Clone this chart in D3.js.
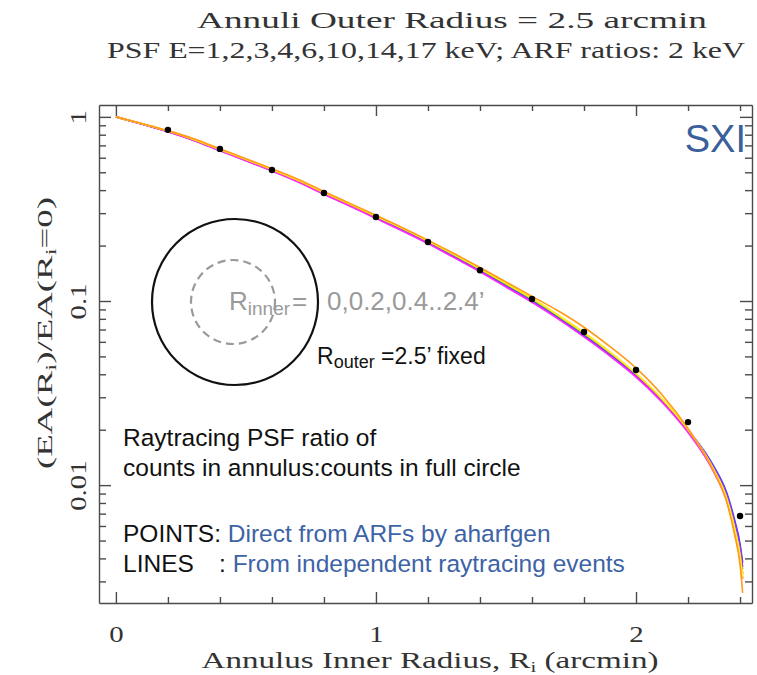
<!DOCTYPE html>
<html>
<head>
<meta charset="utf-8">
<script src="https://cdn.jsdelivr.net/npm/d3@7"></script>
<style>
  body { margin: 0; background: #fff; }
</style>
</head>
<body>
<div id="chart"></div>
<script>
// radii (arcmin) where the raytracing PSF ratio was sampled
const radii = [0, 0.1, 0.2, 0.3, 0.4, 0.5, 0.6, 0.7, 0.8, 0.9, 1.0, 1.1, 1.2, 1.3, 1.4, 1.5,
  1.6, 1.7, 1.8, 1.9, 2.0, 2.1, 2.2, 2.3, 2.35, 2.38, 2.4, 2.41];

// PSF energies (keV) and line colours
const energies = [1, 2, 3, 4, 6, 10, 14, 17];
const lineColors = ["#ff2a2a", "#3ad43a", "#3344ff", "#9a33ff", "#ff2aff", "#ffc400", "#ffee22", "#ff9a1a"];

const psf1keV = [1.0, 0.915, 0.834, 0.748, 0.66, 0.582, 0.513, 0.448, 0.384, 0.331, 0.284, 0.244, 0.208, 0.175, 0.146, 0.121,
  0.1, 0.0813, 0.065, 0.051, 0.0392, 0.0287, 0.0196, 0.012, 0.0083, 0.0058, 0.0042, 0.0033];
const psf2keV = [1.0, 0.916, 0.835, 0.75, 0.662, 0.584, 0.515, 0.45, 0.386, 0.333, 0.286, 0.246, 0.209, 0.176, 0.147, 0.122,
  0.101, 0.082, 0.0655, 0.0515, 0.0396, 0.029, 0.0199, 0.0122, 0.0086, 0.006, 0.0044, 0.0035];
const psf3keV = [1.0, 0.915, 0.833, 0.747, 0.659, 0.58, 0.511, 0.446, 0.382, 0.33, 0.283, 0.243, 0.207, 0.174, 0.1455, 0.1205,
  0.0998, 0.081, 0.0648, 0.0511, 0.0393, 0.0289, 0.02, 0.0126, 0.009, 0.0064, 0.0048, 0.0038];
const psf4keV = [1.0, 0.915, 0.832, 0.745, 0.657, 0.579, 0.51, 0.445, 0.381, 0.329, 0.282, 0.242, 0.206, 0.173, 0.145, 0.12,
  0.0992, 0.0805, 0.0643, 0.0507, 0.039, 0.0287, 0.0198, 0.0124, 0.0088, 0.0062, 0.0046, 0.0036];
const psf6keV = [1.0, 0.914, 0.83, 0.743, 0.655, 0.577, 0.508, 0.443, 0.38, 0.328, 0.281, 0.241, 0.205, 0.172, 0.144, 0.119,
  0.0985, 0.08, 0.0638, 0.0502, 0.0386, 0.0282, 0.0193, 0.0117, 0.0081, 0.0056, 0.0041, 0.0031];
const psf10keV = [1.0, 0.917, 0.837, 0.752, 0.664, 0.586, 0.517, 0.452, 0.388, 0.335, 0.288, 0.248, 0.211, 0.178, 0.149, 0.124,
  0.103, 0.0835, 0.067, 0.0525, 0.0402, 0.0293, 0.02, 0.012, 0.0083, 0.0057, 0.0041, 0.0031];
const psf14keV = [1.0, 0.918, 0.84, 0.756, 0.668, 0.589, 0.52, 0.454, 0.39, 0.337, 0.29, 0.249, 0.212, 0.179, 0.15, 0.125,
  0.104, 0.084, 0.0675, 0.053, 0.0405, 0.0295, 0.0201, 0.0121, 0.0084, 0.0058, 0.0042, 0.0032];
const psf17keV = [1.0, 0.92, 0.842, 0.76, 0.672, 0.593, 0.523, 0.458, 0.393, 0.339, 0.292, 0.251, 0.214, 0.181, 0.152, 0.127,
  0.106, 0.0885, 0.072, 0.0565, 0.0432, 0.031, 0.0203, 0.0118, 0.008, 0.0053, 0.0037, 0.0026];

// ARF ratios at 2 keV (points)
const arfRadii = [0.2, 0.4, 0.6, 0.8, 1.0, 1.2, 1.4, 1.6, 1.8, 2.0, 2.2, 2.4];
const arfRatio = [0.85, 0.67, 0.515, 0.386, 0.286, 0.209, 0.147, 0.1025, 0.0679, 0.0422, 0.022, 0.0068];

// tick values
const xMajor = [0, 1, 2];
const xMinor = [0.2, 0.4, 0.6, 0.8, 1.2, 1.4, 1.6, 1.8, 2.2, 2.4];
const yMajor = [1, 0.1, 0.01];
const yMinor = [0.003, 0.004, 0.005, 0.006, 0.007, 0.008, 0.009,
  0.02, 0.03, 0.04, 0.05, 0.06, 0.07, 0.08, 0.09,
  0.2, 0.3, 0.4, 0.5, 0.6, 0.7, 0.8, 0.9];

const series = [psf1keV, psf2keV, psf3keV, psf4keV, psf6keV, psf10keV, psf14keV, psf17keV];

const W = 757, H = 675;
const margin = { top: 105, right: 5, bottom: 72, left: 99 };
const width = W - margin.left - margin.right;
const height = H - margin.top - margin.bottom;

const serif = "'Liberation Serif', serif";
const sans = "'Liberation Sans', Arial, Helvetica, sans-serif";
const blue = "#3d63a6";
const axisColor = "#4a4a4a";
const inkColor = "#333";

const svg = d3.select("#chart").append("svg")
    .attr("width", W)
    .attr("height", H);

const g = svg.append("g")
    .attr("transform", `translate(${margin.left},${margin.top})`);

const x = d3.scaleLinear().domain([-0.065, 2.446]).range([0, width]);
const y = d3.scaleLog().domain([0.00229, 1.16]).range([height, 0]);

// curves
const line = d3.line()
    .x(d => x(d[0]))
    .y(d => y(d[1]))
    .curve(d3.curveMonotoneX);

series.forEach((vals, i) => {
    g.append("path")
        .datum(radii.map((r, j) => [r, vals[j]]))
        .attr("class", "psf-line e" + energies[i])
        .attr("fill", "none")
        .attr("stroke", lineColors[i])
        .attr("stroke-width", 1.6)
        .attr("stroke-linejoin", "round")
        .attr("d", line);
});

// ARF points
g.selectAll(".arf")
    .data(arfRadii.map((r, i) => [r, arfRatio[i]]))
  .enter().append("circle")
    .attr("class", "arf")
    .attr("cx", d => x(d[0]))
    .attr("cy", d => y(d[1]))
    .attr("r", 3.2)
    .attr("fill", "#000");

// axes (ticks point inward on all four sides)
function styleAxis(sel) {
    sel.selectAll("path, line").attr("stroke", axisColor).attr("stroke-width", 1.4);
}
function noDomain(sel) { sel.select(".domain").remove(); }

g.append("g").attr("transform", `translate(0,${height})`)
    .call(d3.axisBottom(x).tickValues(xMajor).tickSize(-11).tickSizeOuter(0).tickPadding(22).tickFormat(d3.format("d")))
    .call(styleAxis)
    .call(a => a.selectAll("text").attr("font-family", serif).attr("font-size", 24).attr("fill", inkColor)
        .attr("transform", "scale(1.2,1)"));
g.append("g").attr("transform", `translate(0,${height})`)
    .call(d3.axisBottom(x).tickValues(xMinor).tickSize(-6).tickFormat(""))
    .call(noDomain).call(styleAxis);

g.append("g")
    .call(d3.axisTop(x).tickValues(xMajor).tickSize(-11).tickSizeOuter(0).tickFormat(""))
    .call(styleAxis);
g.append("g")
    .call(d3.axisTop(x).tickValues(xMinor).tickSize(-6).tickFormat(""))
    .call(noDomain).call(styleAxis);

g.append("g")
    .call(d3.axisLeft(y).tickValues(yMajor).tickSize(-12).tickSizeOuter(0).tickFormat(d => String(d)))
    .call(styleAxis)
    .call(a => a.selectAll("text")
        .attr("font-family", serif).attr("font-size", 24).attr("fill", inkColor)
        .attr("text-anchor", "middle")
        .attr("transform", "rotate(-90) scale(1.2,1)")
        .attr("x", 0).attr("y", -13).attr("dy", 0));
g.append("g")
    .call(d3.axisLeft(y).tickValues(yMinor).tickSize(-7).tickFormat(""))
    .call(noDomain).call(styleAxis);

g.append("g").attr("transform", `translate(${width},0)`)
    .call(d3.axisRight(y).tickValues(yMajor).tickSize(-12).tickSizeOuter(0).tickFormat(""))
    .call(styleAxis);
g.append("g").attr("transform", `translate(${width},0)`)
    .call(d3.axisRight(y).tickValues(yMinor).tickSize(-7).tickFormat(""))
    .call(noDomain).call(styleAxis);

// titles
svg.append("text")
    .attr("x", 452).attr("y", 28)
    .attr("text-anchor", "middle")
    .attr("font-family", serif).attr("font-size", 24).attr("fill", inkColor)
    .attr("textLength", 510).attr("lengthAdjust", "spacingAndGlyphs")
    .text("Annuli Outer Radius = 2.5 arcmin");
svg.append("text")
    .attr("x", 426).attr("y", 58)
    .attr("text-anchor", "middle")
    .attr("font-family", serif).attr("font-size", 24).attr("fill", inkColor)
    .attr("textLength", 638).attr("lengthAdjust", "spacingAndGlyphs")
    .text("PSF E=1,2,3,4,6,10,14,17 keV; ARF ratios: 2 keV");

// x axis label
const xl = svg.append("text")
    .attr("x", 430).attr("y", 668)
    .attr("text-anchor", "middle")
    .attr("font-family", serif).attr("font-size", 24).attr("fill", inkColor)
    .attr("textLength", 457).attr("lengthAdjust", "spacingAndGlyphs");
xl.append("tspan").text("Annulus Inner Radius, R");
xl.append("tspan").attr("font-size", 15).attr("dy", 4).text("i");
xl.append("tspan").attr("dy", -4).text(" (arcmin)");

// y axis label
const yl = svg.append("text")
    .attr("transform", "translate(52,333) rotate(-90)")
    .attr("text-anchor", "middle")
    .attr("font-family", serif).attr("font-size", 21).attr("fill", inkColor)
    .attr("textLength", 272).attr("lengthAdjust", "spacingAndGlyphs");
yl.append("tspan").text("(EA(R");
yl.append("tspan").attr("font-size", 14).attr("dy", 4).text("i");
yl.append("tspan").attr("dy", -4).text(")/EA(R");
yl.append("tspan").attr("font-size", 14).attr("dy", 4).text("i");
yl.append("tspan").attr("dy", -4).text("=0)");

// SXI tag
svg.append("text")
    .attr("x", 746).attr("y", 152)
    .attr("text-anchor", "end")
    .attr("font-family", sans).attr("font-size", 38).attr("fill", "#3b5f9b")
    .text("SXI");

// annulus sketch
svg.append("circle")
    .attr("cx", 235).attr("cy", 302).attr("r", 83)
    .attr("fill", "none").attr("stroke", "#111").attr("stroke-width", 2.2);
svg.append("circle")
    .attr("cx", 233).attr("cy", 302).attr("r", 42)
    .attr("fill", "none").attr("stroke", "#9a9a9a").attr("stroke-width", 2.2)
    .attr("stroke-dasharray", "8,5");

const rin = svg.append("text")
    .attr("x", 229).attr("y", 310)
    .attr("font-family", sans).attr("font-size", 26).attr("fill", "#9a9a9a");
rin.append("tspan").text("R");
rin.append("tspan").attr("font-size", 19).attr("dy", 5).text("inner");
svg.append("text")
    .attr("x", 292).attr("y", 310)
    .attr("font-family", sans).attr("font-size", 26).attr("fill", "#9a9a9a")
    .text("=");
svg.append("text")
    .attr("x", 327).attr("y", 310)
    .attr("font-family", sans).attr("font-size", 26).attr("fill", "#9a9a9a")
    .text("0,0.2,0.4..2.4\u2019");

const rout = svg.append("text")
    .attr("x", 317).attr("y", 364)
    .attr("font-family", sans).attr("font-size", 23).attr("fill", "#111");
rout.append("tspan").text("R");
rout.append("tspan").attr("font-size", 18).attr("dy", 4).text("outer");
rout.append("tspan").attr("dy", -4).text(" =2.5\u2019 fixed");

// notes
const notes = svg.append("g")
    .attr("font-family", sans).attr("font-size", 24.5).attr("fill", "#111");
notes.append("text").attr("x", 123).attr("y", 446).text("Raytracing PSF ratio of");
notes.append("text").attr("x", 123).attr("y", 476).text("counts in annulus:counts in full circle");
const p = notes.append("text").attr("x", 123).attr("y", 542);
p.append("tspan").text("POINTS: ");
p.append("tspan").attr("fill", blue).text("Direct from ARFs by aharfgen");
notes.append("text").attr("x", 123).attr("y", 572).text("LINES");
const l = notes.append("text").attr("x", 219).attr("y", 572);
l.append("tspan").text(": ");
l.append("tspan").attr("fill", blue).text("From independent raytracing events");
</script>
</body>
</html>
